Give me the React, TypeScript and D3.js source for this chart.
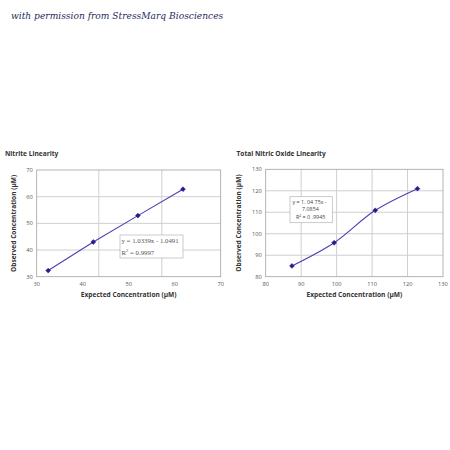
import React from "react";
import * as d3 from "d3";

const nitriteExpected = [32.5, 42.3, 52.0, 61.8];
const nitriteObserved = [32.3, 43.0, 52.9, 62.8];
const nitriteXTicks = [30, 40, 50, 60, 70];
const nitriteYTicks = [30, 40, 50, 60, 70];
const nitriteGridX = [43.5, 57.2];
const nitriteGridY = [40, 50, 60];
const nitriteEq = ["y = 1.0339x - 1.0491", "R2 = 0.9997"];

const noExpected = [87.4, 99.3, 110.9, 122.8];
const noObserved = [85.0, 95.8, 110.9, 121.0];
const noXTicks = [80, 90, 100, 110, 120, 130];
const noYTicks = [80, 90, 100, 110, 120, 130];
const noGridX = [90, 100, 110, 120];
const noGridY = [90, 100, 110, 120];
const noEq = ["y = 1. 04 75x -", "7.0854", "R² = 0 .9945"];

const LINE = "#4a40b4";
const MARK = "#251c8c";
const GRID = "#cfcfcf";
const AXIS = "#a0a0a0";
const TICKC = "#555";

function Marker({ x, y }: { x: number; y: number }) {
  const s = 2.4;
  return (
    <path
      d={`M${x},${y - s}L${x + s},${y}L${x},${y + s}L${x - s},${y}Z`}
      fill={MARK}
      stroke={MARK}
      strokeWidth={0.6}
    />
  );
}

function Chart(props: {
  left: number; right: number; top: number; bottom: number;
  xDomain: [number, number]; yDomain: [number, number];
  xTicks: number[]; yTicks: number[]; gridX: number[]; gridY: number[];
  xs: number[]; ys: number[]; smooth: boolean;
  title: string; titleX: number; yLabelX: number;
  eqBox: { x0: number; y0: number; x1: number; y1: number };
  eqLines: string[]; eqSerif: boolean;
}) {
  const x = d3.scaleLinear().domain(props.xDomain).range([props.left, props.right]);
  const y = d3.scaleLinear().domain(props.yDomain).range([props.bottom, props.top]);
  const pts: [number, number][] = props.xs.map((v, i) => [x(v), y(props.ys[i])]);
  const line = d3.line().curve(props.smooth ? d3.curveCatmullRom.alpha(0.5) : d3.curveLinear)(pts) || "";
  const b = props.eqBox;
  const sans = "'Open Sans', 'Noto Sans', sans-serif";
  return (
    <g>
      <text x={props.titleX} y={156} fontFamily={sans} fontWeight="bold" fontSize={6.6} fill="#333">
        {props.title}
      </text>
      {props.gridX.map((g) => (
        <line key={"gx" + g} x1={x(g)} x2={x(g)} y1={props.top} y2={props.bottom} stroke={GRID} strokeWidth={1} />
      ))}
      {props.gridY.map((g) => (
        <line key={"gy" + g} x1={props.left} x2={props.right} y1={y(g)} y2={y(g)} stroke={GRID} strokeWidth={1} />
      ))}
      <rect x={props.left} y={props.top} width={props.right - props.left} height={props.bottom - props.top}
        fill="none" stroke={AXIS} strokeWidth={0.8} />
      {props.xTicks.map((t) => (
        <text key={"xt" + t} x={x(t)} y={props.bottom + 9} textAnchor="middle" fontFamily={sans} fontSize={5.7} fill={TICKC}>
          {t}
        </text>
      ))}
      {props.yTicks.map((t) => (
        <text key={"yt" + t} x={props.left - 4} y={y(t) + 2} textAnchor="end" fontFamily={sans} fontSize={5.7} fill={TICKC}>
          {t}
        </text>
      ))}
      <text x={(props.left + props.right) / 2} y={props.bottom + 20} textAnchor="middle" fontFamily={sans}
        fontWeight="bold" fontSize={6.6} fill="#333">
        Expected Concentration (µM)
      </text>
      <text transform={`translate(${props.yLabelX},${(props.top + props.bottom) / 2}) rotate(-90)`}
        textAnchor="middle" fontFamily={sans} fontWeight="bold" fontSize={6.6} fill="#333">
        Observed Concentration (µM)
      </text>
      <path d={line} fill="none" stroke={LINE} strokeWidth={1.1} />
      {pts.map((p, i) => (
        <Marker key={i} x={p[0]} y={p[1]} />
      ))}
      <rect x={b.x0} y={b.y0} width={b.x1 - b.x0} height={b.y1 - b.y0} fill="#fff" stroke="#b5b5b5" strokeWidth={0.7} />
      {props.eqSerif ? (
        <g fontFamily="'Liberation Serif', 'DejaVu Serif', serif" fontSize={6.8} fill="#555">
          <text x={b.x0 + 1.5} y={b.y0 + 7.5}>{props.eqLines[0]}</text>
          <text x={b.x0 + 1.5} y={b.y0 + 19.5}>
            R<tspan fontSize={4.5} dy={-2.5}>2</tspan><tspan dy={2.5}> = 0.9997</tspan>
          </text>
        </g>
      ) : (
        <g fontFamily={sans} fontSize={5.4} fill="#444">
          <text x={b.x0 + 2.5} y={b.y0 + 7}>{props.eqLines[0]}</text>
          <text x={b.x0 + 12} y={b.y0 + 14}>{props.eqLines[1]}</text>
          <text x={b.x0 + 6} y={b.y0 + 22.5}>{props.eqLines[2]}</text>
        </g>
      )}
    </g>
  );
}

export default function App() {
  return (
    <svg width={450} height={450} style={{ position: "absolute", left: 0, top: 0, background: "#fff" }}>
      <rect width={450} height={450} fill="#fff" />
      <text x={11} y={19} fontFamily="'DejaVu Serif', serif" fontStyle="italic" fontSize={9.1} fill="#1f2a5c">
        with permission from StressMarq Biosciences
      </text>
      <Chart
        left={36.7} right={220.7} top={170} bottom={276.7}
        xDomain={[30, 70]} yDomain={[30, 70]}
        xTicks={nitriteXTicks} yTicks={nitriteYTicks}
        gridX={nitriteGridX} gridY={nitriteGridY}
        xs={nitriteExpected} ys={nitriteObserved} smooth={false}
        title="Nitrite Linearity" titleX={5} yLabelX={16}
        eqBox={{ x0: 120, y0: 235, x1: 183, y1: 258 }}
        eqLines={nitriteEq} eqSerif={true}
      />
      <Chart
        left={265.7} right={443} top={169.3} bottom={276.7}
        xDomain={[80, 130]} yDomain={[80, 130]}
        xTicks={noXTicks} yTicks={noYTicks}
        gridX={noGridX} gridY={noGridY}
        xs={noExpected} ys={noObserved} smooth={true}
        title="Total Nitric Oxide Linearity" titleX={236.5} yLabelX={241}
        eqBox={{ x0: 290, y0: 196.7, x1: 332.3, y1: 222.7 }}
        eqLines={noEq} eqSerif={false}
      />
    </svg>
  );
}
